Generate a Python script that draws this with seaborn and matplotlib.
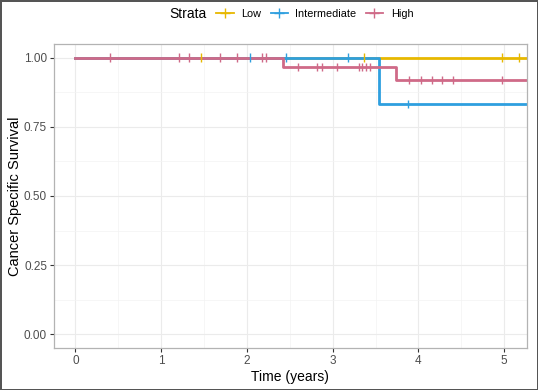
import numpy as np
import pandas as pd
import seaborn as sns
import matplotlib.pyplot as plt
from matplotlib.lines import Line2D

# Kaplan-Meier curves
strata = ["Low", "Intermediate", "High"]
colors = ["#E7B800", "#2E9FDF", "#CF6A88"]

step_times = {
    "Low": [0.0],
    "Intermediate": [0.0, 3.54],
    "High": [0.0, 2.42, 3.74],
}
step_surv = {
    "Low": [1.0],
    "Intermediate": [1.0, 0.833],
    "High": [1.0, 0.967, 0.92],
}
censor_times = {
    "Low": [1.47, 3.37, 4.98, 5.17],
    "Intermediate": [2.03, 2.45, 3.18, 3.88],
    "High": [0.40, 1.21, 1.32, 1.68, 1.88, 2.17, 2.22, 2.59, 2.82, 2.87,
             3.05, 3.31, 3.34, 3.39, 3.44, 3.89, 4.03, 4.16, 4.27, 4.40, 4.98],
}
end_time = 6.0

plt.rcParams['font.family'] = ['Liberation Sans', 'DejaVu Sans']

# build the long tables
rows = []
for s in strata:
    for t, v in zip(step_times[s] + [end_time], step_surv[s] + [step_surv[s][-1]]):
        rows.append({"time": t, "surv": v, "strata": s})
curves = pd.DataFrame(rows)

crows = []
for s in strata:
    st = np.array(step_times[s])
    sv = np.array(step_surv[s])
    for t in censor_times[s]:
        crows.append({"time": t, "surv": sv[np.searchsorted(st, t, side="right") - 1], "strata": s})
censors = pd.DataFrame(crows)

fig = plt.figure(figsize=(5.38, 3.9), dpi=100)
fig.patch.set_edgecolor("#555555")
fig.patch.set_linewidth(2.0)
ax = fig.add_axes([54 / 538, 42 / 390, 472.5 / 538, 304 / 390])

pal = dict(zip(strata, colors))
sns.lineplot(data=curves, x="time", y="surv", hue="strata", palette=pal,
             drawstyle="steps-post", estimator=None, linewidth=2.0,
             legend=False, ax=ax)
sns.scatterplot(data=censors, x="time", y="surv", hue="strata", palette=pal,
                marker="|", s=40, linewidth=1.0, legend=False, ax=ax, zorder=3)

ax.set_xlim(-0.25, 5.26)
ax.set_ylim(-0.05, 1.05)
ax.set_xticks([0, 1, 2, 3, 4, 5])
ax.set_yticks([0, 0.25, 0.5, 0.75, 1.0])
ax.set_yticklabels(["0.00", "0.25", "0.50", "0.75", "1.00"])
ax.set_xticks(np.arange(0.5, 5.0, 1.0), minor=True)
ax.set_yticks(np.arange(0.125, 1.0, 0.25), minor=True)
ax.grid(True, which="major", color="#EBEBEB", linewidth=0.8)
ax.grid(True, which="minor", color="#F3F3F3", linewidth=0.5)
ax.set_axisbelow(True)
for sp in ax.spines.values():
    sp.set_color("#B3B3B3")
    sp.set_linewidth(0.9)
ax.tick_params(which="major", length=3, color="#333333", labelsize=8.5,
               labelcolor="#4D4D4D", pad=2)
ax.tick_params(which="minor", length=0)
ax.set_xlabel("Time (years)", fontsize=10, labelpad=2)
ax.set_ylabel("Cancer Specific Survival", fontsize=10.5)
ax.yaxis.set_label_coords(-0.068, 0.5)

# legend at the top
fig.text(169 / 538, 1 - 14 / 390, "Strata", fontsize=10, va="center", ha="left")
handles = [Line2D([0], [0], color=c, lw=1.3, marker="+", markersize=7,
                  markeredgewidth=1.0) for c in colors]
fig.legend(handles, strata, loc="center left", bbox_to_anchor=(211 / 538, 1 - 14 / 390),
           ncol=3, frameon=False, fontsize=7.8, handlelength=1.6, handletextpad=0.7,
           columnspacing=0.85, borderpad=0)

fig.savefig("out.png", dpi=100)
